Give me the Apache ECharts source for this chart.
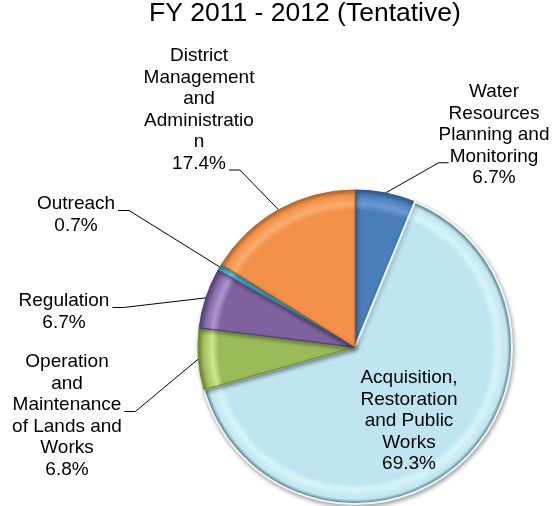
<!DOCTYPE html>
<html>
<head>
<meta charset="utf-8">
<script src="https://cdn.jsdelivr.net/npm/echarts@6/dist/echarts.min.js"></script>
<style>
  html, body { margin: 0; padding: 0; background: #ffffff; }
  #chart { width: 557px; height: 506px; }
</style>
</head>
<body>
<div id="chart"></div>
<script>
// FY 2011-2012 tentative budget split by program area
const titleText = 'FY 2011 - 2012 (Tentative)';

const categories = [
  'Water\nResources\nPlanning and\nMonitoring',
  'Acquisition,\nRestoration\nand Public\nWorks',
  'Operation\nand\nMaintenance\nof Lands and\nWorks',
  'Regulation',
  'Outreach',
  'District\nManagement\nand\nAdministratio\nn'
];

const shares = [6.7, 69.3, 6.8, 6.7, 0.7, 17.4];

// slice fills: base, light ridge, dark rim
const baseColors  = ['#4a7ebb', '#bfe6f0', '#9bbb59', '#7f63a1', '#4bacc6', '#f3914a'];
const lightColors = ['#6c9ad4', '#d8f3f9', '#cfe98a', '#ad96d0', '#7fcbe0', '#f9ad6c'];
const rimColors   = ['#2f5a8c', '#58747c', '#6c8a34', '#54407a', '#2f7f95', '#b8672a'];

// label blocks: centre, side the leader line meets, and the text line it meets
const labelPlacement = [
  { x: 494, y: 135, side: 'left',  line: 3 },
  { x: 409, y: 421, side: null,    line: 0 },
  { x: 67,  y: 416, side: 'right', line: 2 },
  { x: 64,  y: 312, side: 'right', line: 0 },
  { x: 76,  y: 215, side: 'right', line: 0 },
  { x: 199, y: 110, side: 'right', line: 5 }
];

const FONT_FAMILY = "'Liberation Sans', Arial, sans-serif";
const FONT_SIZE = 19;
const LINE_H = 21.5;
const CENTER = [355, 347];
const RADIUS = 157;

const measureCtx = document.createElement('canvas').getContext('2d');
measureCtx.font = FONT_SIZE + 'px ' + FONT_FAMILY;

function labelText(i) {
  return categories[i] + '\n' + shares[i] + '%';
}

function bevelFill(i) {
  return {
    type: 'radial', x: CENTER[0], y: CENTER[1], r: RADIUS, global: true,
    colorStops: [
      { offset: 0, color: baseColors[i] },
      { offset: 0.87, color: baseColors[i] },
      { offset: 0.91, color: lightColors[i] },
      { offset: 0.97, color: baseColors[i] },
      { offset: 1, color: rimColors[i] }
    ]
  };
}

const pieData = categories.map((name, i) => ({
  name: name,
  value: shares[i],
  itemStyle: {
    color: bevelFill(i),
    borderColor: i === 1 ? '#e8f8fc' : rimColors[i],
    borderWidth: i === 1 ? 2 : 1
  },
  labelLine: { show: labelPlacement[i].side !== null }
}));

const chart = echarts.init(document.getElementById('chart'), null, { renderer: 'canvas' });

chart.setOption({
  animation: false,
  backgroundColor: '#ffffff',
  title: {
    text: titleText,
    left: 149,
    top: 0,
    padding: 0,
    textStyle: {
      fontFamily: FONT_FAMILY,
      fontSize: 26.5,
      fontWeight: 'normal',
      color: '#000000'
    }
  },
  series: [{
    type: 'pie',
    center: CENTER,
    radius: RADIUS,
    startAngle: 90,
    clockwise: true,
    selectedMode: false,
    avoidLabelOverlap: false,
    data: pieData,
    itemStyle: {
      shadowBlur: 4,
      shadowColor: 'rgba(0,0,0,0.35)',
      shadowOffsetX: 1,
      shadowOffsetY: 2
    },
    emphasis: { disabled: true },
    label: {
      show: true,
      position: 'outside',
      formatter: (p) => labelText(p.dataIndex),
      fontFamily: FONT_FAMILY,
      fontSize: FONT_SIZE,
      lineHeight: LINE_H,
      color: '#000000',
      align: 'center'
    },
    labelLine: {
      show: true,
      lineStyle: { color: '#000000', width: 1 }
    },
    labelLayout: function (params) {
      const i = params.dataIndex;
      const place = labelPlacement[i];
      const out = { x: place.x, y: place.y, align: 'center', verticalAlign: 'middle' };
      if (place.side && params.labelLinePoints) {
        const lines = labelText(i).split('\n');
        const top = place.y - lines.length * LINE_H / 2;
        const w = measureCtx.measureText(lines[place.line]).width;
        const endY = top + place.line * LINE_H + 17;
        let endX, bendX;
        if (place.side === 'right') {
          endX = place.x + w / 2 + 3;
          bendX = endX + 11;
        } else {
          endX = place.x - w / 2 - 1;
          bendX = endX - 10;
        }
        out.labelLinePoints = [params.labelLinePoints[0], [bendX, endY], [endX, endY]];
      }
      return out;
    }
  }]
});
</script>
</body>
</html>
